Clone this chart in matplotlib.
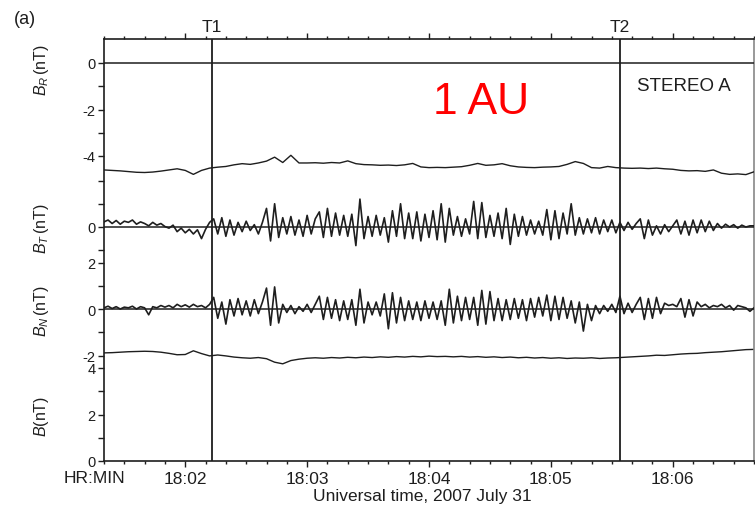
import numpy as np
import matplotlib
matplotlib.use("Agg")
import matplotlib.pyplot as plt

plt.rcParams['font.family'] = ['Liberation Sans', 'DejaVu Sans']
plt.rcParams['mathtext.fontset'] = 'custom'
plt.rcParams['mathtext.rm'] = 'Liberation Sans'
plt.rcParams['mathtext.it'] = 'Liberation Sans:italic'

# field components (nT); time in seconds from 18:01:20 UT
br = [-4.60, -4.62, -4.64, -4.67, -4.70, -4.71, -4.69, -4.65, -4.60, -4.55,
      -4.62, -4.79, -4.62, -4.52, -4.48, -4.45, -4.38, -4.33, -4.36, -4.30,
      -4.22, -4.05, -4.28, -3.97, -4.30, -4.30, -4.29, -4.31, -4.28, -4.30,
      -4.21, -4.33, -4.37, -4.38, -4.40, -4.39, -4.41, -4.38, -4.32, -4.47,
      -4.50, -4.49, -4.50, -4.48, -4.46, -4.40, -4.32, -4.40, -4.38, -4.33,
      -4.42, -4.47, -4.49, -4.50, -4.48, -4.47, -4.45, -4.36, -4.24, -4.32,
      -4.50, -4.52, -4.45, -4.50, -4.52, -4.53, -4.52, -4.54, -4.52, -4.55,
      -4.57, -4.62, -4.64, -4.63, -4.66, -4.60, -4.74, -4.79, -4.77, -4.80,
      -4.68]

bt = [0.22, 0.3, 0.15, 0.28, 0.12, 0.25, 0.2, 0.3, 0.12, 0.22, 0.15,
      0.05, 0.2, 0.08, 0.15, 0.02,
      -0.05, 0.08, -0.2, -0.05, -0.25, -0.1, -0.3, -0.12,
      -0.5, -0.1, 0.2,
      0.35, -0.3, 0.4, -0.4, 0.3, -0.35,
      0.2, -0.2, 0.25, -0.15, 0.1, -0.3, 0.2,
      0.8, -0.6, 1.0, -0.45,
      0.4, -0.3, 0.45, -0.35, 0.3, -0.4, 0.5, -0.3, 0.35,
      0.65, -0.45, 0.8, -0.4,
      0.6, -0.35, 0.5, -0.4, 0.55,
      -0.8, 1.2, -0.5,
      0.45, -0.4, 0.5, -0.35, 0.4,
      -0.65, 0.7, -0.4, 1.0, -0.5,
      0.6, -0.5, 0.65, -0.6, 0.55, -0.45, 0.7, -0.55,
      1.0, -0.65, 0.8,
      -0.35, 0.45, -0.4, 0.35, -0.3,
      1.1, -0.5, 1.05, -0.45,
      0.5, -0.4,
      0.6, -0.5, 0.8, -0.75, 0.55, -0.4, 0.45,
      -0.35, 0.3, -0.3, 0.25, -0.35,
      0.75, -0.55, 0.7, -0.5, 0.6,
      -0.3, 1.0, -0.35,
      0.4, -0.3, 0.35, -0.25, 0.4, -0.3, 0.3,
      -0.2, 0.3, -0.25, 0.2,
      -0.15, 0.2, -0.1, 0.15,
      0.35, -0.5, 0.3,
      -0.35, 0.05, -0.3, 0.1, -0.2, 0.05,
      0.3, -0.3, 0.25, -0.35, 0.3, -0.25, 0.3, -0.2, 0.25, -0.15,
      0.15, -0.05, 0.12, 0.0, 0.1, -0.05, 0.08, 0.0, 0.05, 0.05]

bn = [0.05, 0.12, 0.02, 0.1, 0.0, 0.08, 0.05, 0.12, 0.0, 0.1, 0.05,
      -0.25, 0.1, 0.05, 0.15, 0.08,
      0.15, 0.05, 0.2, 0.1, 0.18, 0.08, 0.2, 0.1,
      0.15, 0.05, 0.2,
      0.5, -0.4, 0.3, -0.65, 0.4, -0.3,
      0.45, -0.25, 0.35, -0.3, 0.4, -0.2, 0.3,
      0.9, -0.7, 0.95, -0.6,
      0.2, -0.15, 0.15, -0.2, 0.1, -0.1, 0.2, -0.15, 0.2,
      0.55, -0.45, 0.5, -0.4,
      0.4, -0.5, 0.35, -0.45, 0.4,
      -0.7, 0.85, -0.6,
      0.3, -0.25, 0.3, -0.3, 0.65,
      -0.85, 0.7, -0.6, 0.5, -0.5,
      0.35, -0.45, 0.3, -0.5, 0.35, -0.4, 0.3, -0.45,
      0.35, -0.7, 0.85,
      -0.6, 0.55, -0.5, 0.5, -0.45,
      0.5, -0.7, 0.8, -0.65,
      0.75, -0.5,
      0.45, -0.5, 0.4, -0.45, 0.45, -0.4, 0.4,
      -0.5, 0.45, -0.35, 0.5, -0.3,
      0.6, -0.5, 0.55, -0.45, 0.5,
      -0.4, 0.35, -0.6,
      0.3, -0.95, 0.2, -0.5, 0.15, -0.2, 0.15,
      -0.1, 0.2, -0.15, 0.55,
      -0.2, 0.25, -0.15, 0.2,
      0.5, -0.45, 0.45,
      -0.4, 0.5, -0.2, 0.25, 0.15, 0.2,
      0.1, 0.45, -0.35, 0.4, -0.3, 0.3, 0.1, 0.2, 0.05, 0.15,
      0.1, 0.2, 0.05, 0.15, -0.05, 0.15, 0.1, 0.05, -0.1, 0.05]

bmag = [4.65, 4.66, 4.68, 4.70, 4.71, 4.72, 4.71, 4.68, 4.63, 4.57,
        4.58, 4.74, 4.62, 4.52, 4.56, 4.52, 4.47, 4.44, 4.42, 4.45,
        4.40, 4.25, 4.18, 4.32, 4.38, 4.42,
        4.44, 4.42, 4.45, 4.43, 4.46, 4.44, 4.47, 4.45, 4.48, 4.46,
        4.49, 4.47, 4.50, 4.48, 4.51, 4.49, 4.50, 4.48, 4.50, 4.47,
        4.49, 4.46, 4.48, 4.45, 4.47, 4.44, 4.46, 4.43, 4.45, 4.42,
        4.44, 4.41, 4.43, 4.42, 4.44, 4.41, 4.43,
        4.44, 4.46, 4.48, 4.50, 4.52, 4.55, 4.54, 4.57, 4.60, 4.62,
        4.63, 4.66, 4.68, 4.70, 4.73, 4.76, 4.79, 4.80]

t_start, t_end = 0, 320
t1, t2 = 53, 254
major_t = [40, 100, 160, 220, 280]
major_lab = ['18:02', '18:03', '18:04', '18:05', '18:06']

fig = plt.figure(figsize=(7.55, 5.10), dpi=100)
W, H = 755, 510
rect = [104 / W, 48 / H, 650 / W, 422 / H]
ink = '#1e1e1e'

# every panel shares the one frame; each has its own zero row and the same nT scale
px_per_nt = 23.25
top_px, bot_px = 40, 462


def panel(zero_px, main=False):
    ax = fig.add_axes(rect, frameon=main)
    if not main:
        ax.patch.set_visible(False)
        ax.set_xticks([])
    ax.set_xlim(t_start, t_end)
    ax.set_ylim(-(bot_px - zero_px) / px_per_nt, (zero_px - top_px) / px_per_nt)
    ax.tick_params(axis='y', direction='out', length=4, width=1, color=ink,
                   labelsize=10.5, labelcolor=ink, pad=2)
    return ax


ax_b = panel(462, main=True)
ax_n = panel(310)
ax_t = panel(228)
ax_r = panel(64)

for s in ax_b.spines.values():
    s.set_color(ink)
    s.set_linewidth(1.2)
ax_b.spines['right'].set_color('#888888')

series = [(ax_r, br, 1.0), (ax_t, bt, 1.2), (ax_n, bn, 1.2), (ax_b, bmag, 1.0)]
for ax, vals, lw in series:
    tt = np.linspace(t_start, t_end, len(vals))
    ax.plot(tt, vals, color=ink, lw=lw)

for ax in (ax_r, ax_t, ax_n):
    ax.axhline(0, color=ink, lw=1.1)

ax_r.set_yticks([0, -1, -2, -3, -4])
ax_r.set_yticklabels(['0', '', '-2', '', '-4'])
ax_t.set_yticks([2, 1, 0, -1])
ax_t.set_yticklabels(['', '', '0', ''])
ax_n.set_yticks([2, 1, 0, -1, -2])
ax_n.set_yticklabels(['2', '', '0', '', '-2'])
ax_b.set_yticks([4, 3, 2, 1, 0])
ax_b.set_yticklabels(['4', '', '2', '', '0'])

ylabels = [(ax_r, r'$B_R\,$(nT)', 0.929), (ax_t, r'$B_T\,$(nT)', 0.552),
           (ax_n, r'$B_N\,$(nT)', 0.358), (ax_b, r'$B$(nT)', 0.107)]
for ax, lab, yf in ylabels:
    ax.set_ylabel(lab, fontsize=11.5, color=ink)
    ax.yaxis.set_label_coords(-0.081, yf, transform=ax_b.transAxes)

# time axis
ax_b.set_xticks(major_t)
ax_b.set_xticklabels(major_lab)
ax_b.set_xticks(np.arange(0, 321, 10), minor=True)
ax_b.tick_params(axis='x', which='both', top=True, direction='out', color=ink,
                 labelsize=12.5, labelcolor=ink, pad=3)
ax_b.tick_params(axis='x', which='major', length=4, width=1)
ax_b.tick_params(axis='x', which='minor', length=2.5, width=1)
ax_b.set_xlabel('Universal time, 2007 July 31', fontsize=12.5, color=ink)
ax_b.xaxis.set_label_coords(0.489, -0.064)
ax_b.text(-4.5, -0.039, 'HR:MIN', transform=ax_b.get_xaxis_transform(),
          ha='center', va='center', fontsize=12.5, color=ink)

for tm, name in ((t1, 'T1'), (t2, 'T2')):
    ax_b.axvline(tm, color=ink, lw=1.3)
    # label sits just clear of the top ticks
    ax_b.text(tm, 1.012, name, transform=ax_b.get_xaxis_transform(), ha='center',
              va='bottom', fontsize=12.5, color=ink)

fig.text(25 / W, 1 - 19 / H, '(a)', ha='center', va='center', fontsize=13, color=ink)
fig.text(684 / W, 1 - 86.5 / H, 'STEREO A', ha='center', va='center',
         fontsize=13.5, color=ink)
fig.text(481 / W, 1 - 103 / H, '1 AU', ha='center', va='center',
         fontsize=32, color='#ff0000')

fig.savefig('out.png', dpi=100)
